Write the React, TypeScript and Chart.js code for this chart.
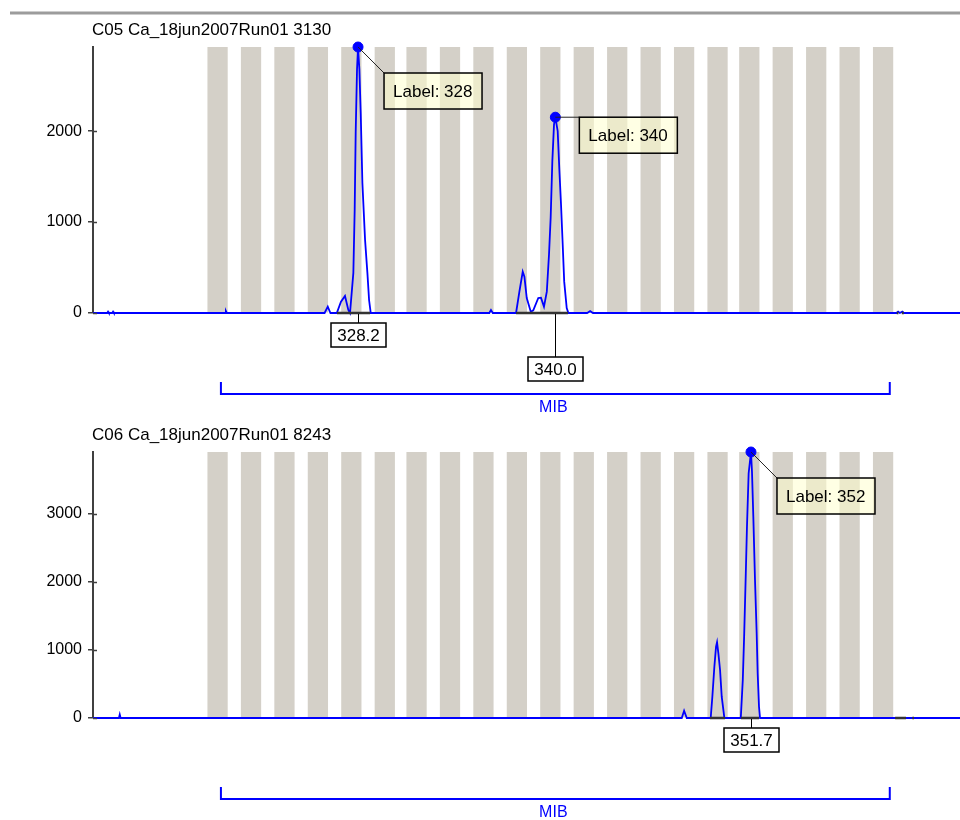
import React, { useEffect, useRef } from "react";
import { Chart, registerables } from "chart.js";

Chart.register(...registerables);

const FONT = "'Liberation Sans', Arial, sans-serif";

// ---------- shared x range (base pairs) ----------
const X_MIN = 312.35;
const X_MAX = 364.2;

// allele bins (grey stripes), centers in bp
const binCenters = [
  319.8, 321.8, 323.8, 325.8, 327.8, 329.8, 331.7, 333.7, 335.7, 337.7, 339.7,
  341.7, 343.7, 345.7, 347.7, 349.7, 351.6, 353.6, 355.6, 357.6, 359.6,
];

// marker range bracket
const markerName = "MIB";
const markerStart = 320;
const markerEnd = 360;

// ---------- panel 1 (C05) ----------
const topTitle = "C05 Ca_18jun2007Run01 3130";
const topYMax = 2925;
const topYTicks = [0, 1000, 2000];
const topSize = [
  312.35, 313.2, 313.25, 313.3, 313.5, 313.55, 313.6, 320.25, 320.3, 320.35,
  326.2, 326.39, 326.55, 326.93, 327.18, 327.42, 327.62, 327.72, 327.92, 328.0,
  328.06, 328.14, 328.2, 328.28, 328.36, 328.46, 328.62, 328.76, 328.86, 328.96,
  336.05, 336.15, 336.26, 337.65, 337.85, 338.05, 338.15, 338.29, 338.53, 338.68,
  338.98, 339.14, 339.32, 339.49, 339.62, 339.72, 339.82, 339.92, 340.0, 340.14,
  340.24, 340.34, 340.44, 340.53, 340.68, 340.78, 341.9, 342.08, 342.25, 360.4,
  360.5, 360.6, 360.75, 360.85, 364.2,
];
const topSignal = [
  0, 0, 15, 0, 0, 15, 0, 0, 20, 0,
  0, 70, 0, 0, 125, 187, 33, 0, 441, 1136,
  1985, 2680, 2925, 2680, 2205, 1433, 805, 441, 143, 0,
  0, 33, 0, 0, 235, 455, 400, 165, 14, 30,
  165, 169, 70, 235, 640, 1047, 1668, 2073, 2153, 1999,
  1577, 1191, 750, 345, 55, 0, 0, 20, 0, 0,
  15, 0, 15, 0, 0,
];
const topPeakSize = [328.2, 340.0];
const topPeakHeight = [2925, 2153];
const topPeakLabel = ["328", "340"];
const topAreaStart = [326.94, 337.65, 360.42, 360.72];
const topAreaEnd = [328.92, 340.76, 360.52, 360.84];

// ---------- panel 2 (C06) ----------
const bottomTitle = "C06 Ca_18jun2007Run01 8243";
const bottomYMax = 3910;
const bottomYTicks = [0, 1000, 2000, 3000];
const bottomSize = [
  312.35, 313.9, 313.95, 314.0, 347.56, 347.7, 347.86, 349.29, 349.39, 349.51,
  349.61, 349.67, 349.75, 349.85, 349.95, 350.11, 351.09, 351.21, 351.29, 351.39,
  351.46, 351.56, 351.7, 351.76, 351.84, 351.94, 352.04, 352.1, 352.18, 352.24,
  364.2,
];
const bottomSignal = [
  0, 0, 50, 0, 0, 107, 0, 0, 313, 754,
  1049, 1113, 951, 706, 313, 0, 0, 559, 1196, 2128,
  2813, 3598, 3910, 3622, 2960, 2029, 1245, 657, 166, 0,
  0,
];
const bottomPeakSize = [351.7];
const bottomPeakHeight = [3910];
const bottomPeakLabel = ["352"];
const bottomAreaStart = [349.25, 351.1, 360.32, 361.35];
const bottomAreaEnd = [350.15, 352.18, 360.97, 361.45];

// ---------- layout (pixels) ----------
const CANVAS_W = 960;
const CANVAS_H = 415;
const PANEL_OFFSET = 405;
const AXIS_LEFT = 93;
const AREA_TOP = 47;
const AREA_BOTTOM = 313;
const topLabelOffsets = [
  { dx: 26, dy: 26 },
  { dx: 24, dy: 0 },
];
const topSizeDrops = [10, 44];
const bottomLabelOffsets = [{ dx: 26, dy: 26 }];
const bottomSizeDrops = [10];

const BLUE = "#0000ff";
const AXIS = "#404040";
const BIN_GREY = "#d4d0c8";

type PanelSpec = {
  title: string;
  yMax: number;
  yTicks: number[];
  size: number[];
  signal: number[];
  peakSize: number[];
  peakHeight: number[];
  peakLabel: string[];
  areaStart: number[];
  areaEnd: number[];
  labelOffsets: { dx: number; dy: number }[];
  sizeDrops: number[];
  separator: boolean;
};

const topSpec: PanelSpec = {
  title: topTitle,
  yMax: topYMax,
  yTicks: topYTicks,
  size: topSize,
  signal: topSignal,
  peakSize: topPeakSize,
  peakHeight: topPeakHeight,
  peakLabel: topPeakLabel,
  areaStart: topAreaStart,
  areaEnd: topAreaEnd,
  labelOffsets: topLabelOffsets,
  sizeDrops: topSizeDrops,
  separator: true,
};

const bottomSpec: PanelSpec = {
  title: bottomTitle,
  yMax: bottomYMax,
  yTicks: bottomYTicks,
  size: bottomSize,
  signal: bottomSignal,
  peakSize: bottomPeakSize,
  peakHeight: bottomPeakHeight,
  peakLabel: bottomPeakLabel,
  areaStart: bottomAreaStart,
  areaEnd: bottomAreaEnd,
  labelOffsets: bottomLabelOffsets,
  sizeDrops: bottomSizeDrops,
  separator: false,
};

function makeDecorPlugin(p: PanelSpec) {
  return {
    id: "decor",
    afterDraw(chart: any) {
      const ctx: CanvasRenderingContext2D = chart.ctx;
      const xs = chart.scales.x;
      const ys = chart.scales.y;
      const area = chart.chartArea;
      const y0 = ys.getPixelForValue(0);
      ctx.save();

      if (p.separator) {
        ctx.strokeStyle = "#9c9c9c";
        ctx.lineWidth = 3;
        ctx.beginPath();
        ctx.moveTo(10, 13);
        ctx.lineTo(CANVAS_W, 13);
        ctx.stroke();
      }

      // title
      ctx.fillStyle = "#000";
      ctx.font = `17px ${FONT}`;
      ctx.textAlign = "left";
      ctx.textBaseline = "middle";
      ctx.fillText(p.title, 92, 30);

      // inner halves of the y ticks
      ctx.strokeStyle = AXIS;
      ctx.lineWidth = 1.5;
      ys.ticks.forEach((t: any) => {
        const y = Math.round(ys.getPixelForValue(t.value)) + 0.5;
        ctx.beginPath();
        ctx.moveTo(area.left, y);
        ctx.lineTo(area.left + 4, y);
        ctx.stroke();
      });

      // size callouts below baseline
      p.peakSize.forEach((s, i) => {
        const x = Math.round(xs.getPixelForValue(s)) + 0.5;
        const drop = p.sizeDrops[i];
        const bw = 55;
        const bh = 24;
        ctx.strokeStyle = "#000";
        ctx.lineWidth = 1;
        ctx.beginPath();
        ctx.moveTo(x, y0 + 1);
        ctx.lineTo(x, y0 + drop);
        ctx.stroke();
        ctx.fillStyle = "#fff";
        ctx.fillRect(x - bw / 2, y0 + drop, bw, bh);
        ctx.lineWidth = 1.5;
        ctx.strokeRect(x - bw / 2, y0 + drop, bw, bh);
        ctx.fillStyle = "#000";
        ctx.font = `17px ${FONT}`;
        ctx.textAlign = "center";
        ctx.textBaseline = "middle";
        ctx.fillText(s.toFixed(1), x, y0 + drop + bh / 2 + 1);
      });

      // peak labels
      p.peakSize.forEach((s, i) => {
        const px = xs.getPixelForValue(s);
        const py = ys.getPixelForValue(p.peakHeight[i]);
        const bx = px + p.labelOffsets[i].dx;
        const by = py + p.labelOffsets[i].dy;
        const bw = 98;
        const bh = 36;
        ctx.strokeStyle = "#222";
        ctx.lineWidth = 1;
        ctx.beginPath();
        ctx.moveTo(px, py);
        ctx.lineTo(bx, by);
        ctx.stroke();
        ctx.fillStyle = "rgba(255,255,205,0.55)";
        ctx.fillRect(bx, by, bw, bh);
        ctx.strokeStyle = "#000";
        ctx.lineWidth = 1.5;
        ctx.strokeRect(bx, by, bw, bh);
        ctx.fillStyle = "#000";
        ctx.font = `17px ${FONT}`;
        ctx.textAlign = "left";
        ctx.textBaseline = "middle";
        ctx.fillText("Label: " + p.peakLabel[i], bx + 9, by + bh / 2 + 1);
      });

      // marker range bracket
      const mx1 = xs.getPixelForValue(markerStart);
      const mx2 = xs.getPixelForValue(markerEnd);
      const bracketY = 394;
      ctx.strokeStyle = BLUE;
      ctx.lineWidth = 2;
      ctx.beginPath();
      ctx.moveTo(mx1, bracketY - 12);
      ctx.lineTo(mx1, bracketY);
      ctx.lineTo(mx2, bracketY);
      ctx.lineTo(mx2, bracketY - 12);
      ctx.stroke();
      ctx.fillStyle = BLUE;
      ctx.font = `16px ${FONT}`;
      ctx.textAlign = "center";
      ctx.textBaseline = "middle";
      ctx.fillText(markerName, (mx1 + mx2) / 2 - 2, 408);

      ctx.restore();
    },
  };
}

function makeConfig(p: PanelSpec): any {
  const trace = p.size.map((x, i) => ({ x, y: p.signal[i] }));
  const bins = binCenters.map((x) => ({ x, y: p.yMax }));
  const areas: any[] = [];
  p.areaStart.forEach((s, i) => {
    areas.push({ x: s, y: 0 });
    areas.push({ x: p.areaEnd[i], y: 0 });
    areas.push({ x: p.areaEnd[i] + 0.001, y: null });
  });
  const peaks = p.peakSize.map((x, i) => ({ x, y: p.peakHeight[i] }));

  return {
    type: "line",
    data: {
      datasets: [
        {
          type: "bar",
          label: "bins",
          data: bins,
          backgroundColor: BIN_GREY,
          borderWidth: 0,
          barThickness: 19.6,
          order: 10,
        },
        {
          type: "line",
          label: "signal",
          data: trace,
          borderColor: BLUE,
          borderWidth: 1.8,
          pointRadius: 0,
          tension: 0,
          fill: false,
          clip: false,
          order: 3,
        },
        {
          type: "line",
          label: "peak areas",
          data: areas,
          borderColor: "#333333",
          borderWidth: 2.5,
          pointRadius: 0,
          spanGaps: false,
          fill: false,
          clip: false,
          order: 2,
        },
        {
          type: "scatter",
          label: "peaks",
          data: peaks,
          showLine: false,
          pointRadius: 5,
          pointBackgroundColor: BLUE,
          pointBorderColor: BLUE,
          pointBorderWidth: 1,
          clip: false,
          order: 1,
        },
      ],
    },
    options: {
      responsive: false,
      animation: false,
      events: [],
      layout: {
        autoPadding: false,
        padding: { left: 0, right: 0, top: AREA_TOP, bottom: CANVAS_H - AREA_BOTTOM },
      },
      plugins: {
        legend: { display: false },
        title: { display: false },
        tooltip: { enabled: false },
      },
      scales: {
        x: {
          type: "linear",
          min: X_MIN,
          max: X_MAX,
          offset: false,
          display: false,
        },
        y: {
          type: "linear",
          min: 0,
          max: p.yMax,
          afterFit: (scale: any) => {
            scale.width = AXIS_LEFT;
          },
          afterBuildTicks: (scale: any) => {
            scale.ticks = p.yTicks.map((v) => ({ value: v }));
          },
          grid: {
            display: true,
            drawOnChartArea: false,
            drawTicks: true,
            tickLength: 5,
            tickColor: AXIS,
            lineWidth: 1.5,
          },
          border: { display: true, color: AXIS, width: 2 },
          ticks: {
            color: "#000",
            padding: 6,
            font: { family: FONT, size: 16 },
            callback: (v: any) => String(v),
          },
        },
      },
    },
    plugins: [makeDecorPlugin(p)],
  };
}

function PanelChart({ spec, top }: { spec: PanelSpec; top: number }) {
  const ref = useRef<HTMLCanvasElement | null>(null);
  useEffect(() => {
    if (!ref.current) return;
    const chart = new Chart(ref.current, makeConfig(spec));
    return () => chart.destroy();
  }, [spec]);
  return (
    <canvas
      ref={ref}
      width={CANVAS_W}
      height={CANVAS_H}
      style={{
        position: "absolute",
        left: 0,
        top,
        width: CANVAS_W,
        height: CANVAS_H,
        display: "block",
      }}
    />
  );
}

export default function App() {
  return (
    <div
      style={{
        position: "fixed",
        left: 0,
        top: 0,
        width: 960,
        height: 820,
        background: "#fff",
        overflow: "hidden",
      }}
    >
      <PanelChart spec={topSpec} top={0} />
      <PanelChart spec={bottomSpec} top={PANEL_OFFSET} />
    </div>
  );
}
